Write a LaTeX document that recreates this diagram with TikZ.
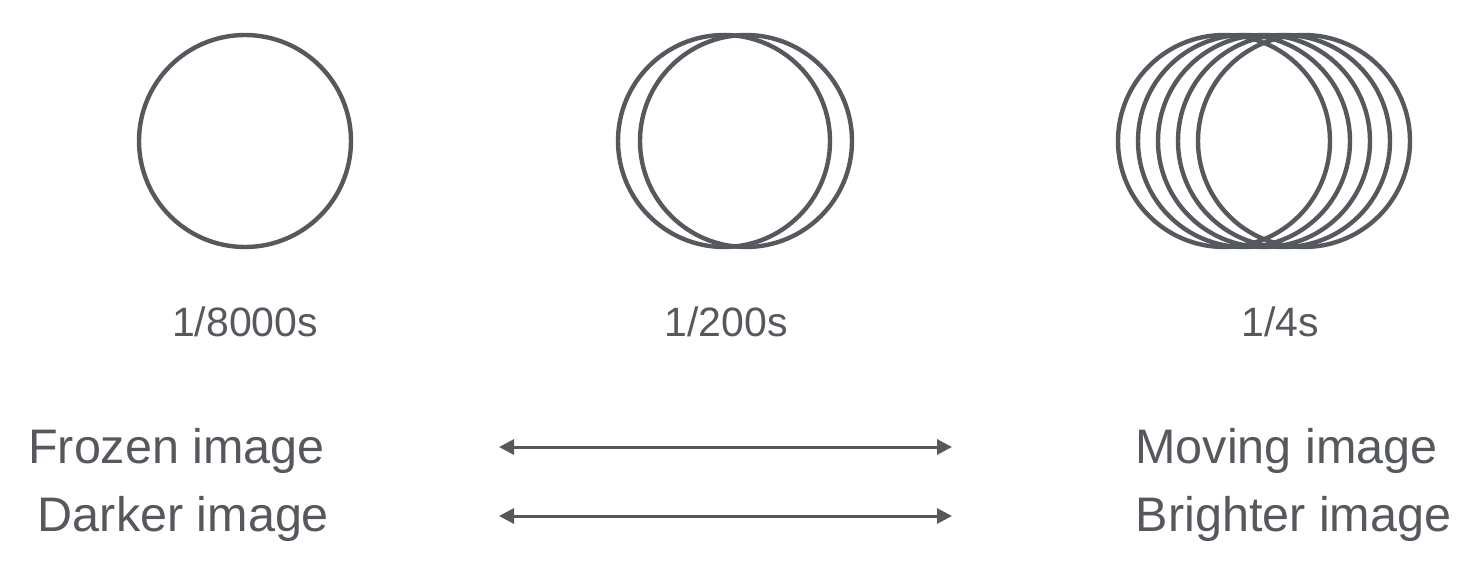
\documentclass[tikz,border=0pt]{standalone}
\usepackage{fontspec}
\setmainfont{Liberation Sans}
\usetikzlibrary{arrows.meta}
\definecolor{ink}{HTML}{55585D}
\tikzset{
  ring/.style={draw=ink, line width=4.4pt},
  biglabel/.style={anchor=base, text=ink, inner sep=0pt, font=\fontsize{48.5}{56}\selectfont},
  timelabel/.style={anchor=base, text=ink, inner sep=0pt, font=\fontsize{41}{48}\selectfont},
  twoway/.style={draw=ink, line width=3pt, {Triangle[length=15pt,width=15pt]}-{Triangle[length=15pt,width=15pt]}}
}
\begin{document}
\begin{tikzpicture}[x=1pt,y=-1pt]
\useasboundingbox (0,0) rectangle (1470,562);
% circles
\draw[ring] (245,141) circle (106);
\draw[ring] (724,141) circle (106);
\draw[ring] (746,141) circle (106);
\foreach \cx in {1224,1244,1264,1284,1304}{
  \draw[ring] (\cx,141) circle (106);
}
% exposure labels
\node[timelabel] (t1) at (245,336) {1/8000s};
\node[timelabel] (t2) at (726,336) {1/200s};
\node[timelabel] (t3) at (1280,336) {1/4s};
% side labels
\node[biglabel] (frozen) at (176.5,463) {Frozen image};
\node[biglabel] (darker) at (183.5,531) {Darker image};
\node[biglabel] (moving) at (1286.5,463) {Moving image};
\node[biglabel] (brighter) at (1293.5,531) {Brighter image};
% arrows
\coordinate (a1l) at (499,447);
\coordinate (a1r) at (952,447);
\coordinate (a2l) at (499,516);
\coordinate (a2r) at (952,516);
\draw[twoway] (a1l) -- (a1r);
\draw[twoway] (a2l) -- (a2r);
\end{tikzpicture}
\end{document}
